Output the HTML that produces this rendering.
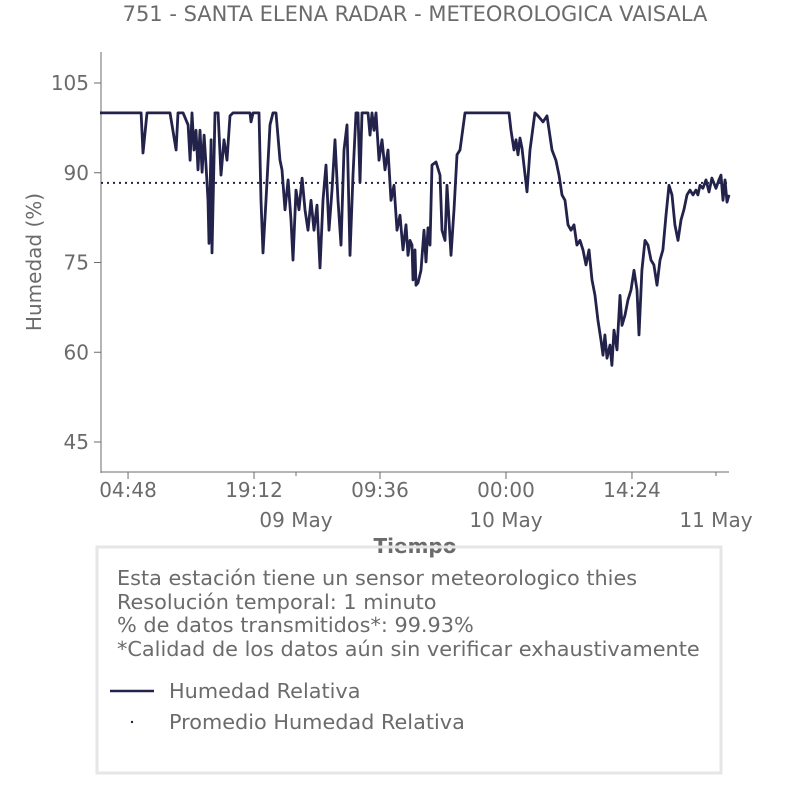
<!DOCTYPE html>
<html><head><meta charset="utf-8">
<style>
html,body{margin:0;padding:0;background:#fff;}
svg{display:block;font-family:"DejaVu Sans","Liberation Sans",sans-serif;}
</style></head>
<body>
<svg id="chart" width="806" height="806" viewBox="0 0 806 806">
<text x="415" y="21" text-anchor="middle" font-size="21" fill="#6b6b6b">751 - SANTA ELENA RADAR - METEOROLOGICA VAISALA</text>
<text transform="translate(41,262) rotate(-90)" text-anchor="middle" font-size="20" fill="#6b6b6b">Humedad (%)</text>
<g id="yticks"></g>
<g id="xticks"></g>
<line x1="101" y1="52" x2="101" y2="473" stroke="#6b6b6b" stroke-width="1"/>
<line x1="101" y1="472" x2="729" y2="472" stroke="#6b6b6b" stroke-width="1"/>
<line id="meanline" stroke="#22224a" stroke-width="2" stroke-dasharray="2,4"/>
<path id="series" fill="none" stroke="#22224a" stroke-width="2.8" stroke-linejoin="round"/>
<text x="415" y="553" text-anchor="middle" font-size="20" font-weight="bold" fill="#6b6b6b">Tiempo</text>
<rect x="97" y="547" width="624" height="226" fill="none" stroke="#e6e6e6" stroke-width="3"/>
<g font-size="20.8" fill="#6b6b6b">
<text x="117" y="585">Esta estación tiene un sensor meteorologico thies</text>
<text x="117" y="609">Resolución temporal: 1 minuto</text>
<text x="117" y="632">% de datos transmitidos*: 99.93%</text>
<text x="117" y="656">*Calidad de los datos aún sin verificar exhaustivamente</text>
<line x1="110" y1="691" x2="154" y2="691" stroke="#22224a" stroke-width="2.6"/>
<text x="169" y="698">Humedad Relativa</text>
<circle cx="132" cy="722" r="1.2" fill="#22224a"/>
<text x="169" y="729">Promedio Humedad Relativa</text>
</g>
</svg>
<script>
const hours=[1.6,6.29,6.51,6.97,9.6,9.83,10.29,10.51,11.09,11.66,
11.89,12.11,12.34,12.57,12.8,13.03,13.26,13.49,13.71,13.94,
14.06,14.29,14.4,14.74,15.09,15.43,15.77,16.11,16.46,16.8,
18.74,18.86,19.09,19.77,20,20.23,20.57,21.03,21.37,21.71,
22.17,22.4,22.74,23.09,23.43,23.66,24,24.34,24.69,25.03,
25.37,25.71,26.06,26.4,26.74,27.09,27.43,27.77,28.11,28.46,
28.8,29.14,29.49,29.83,30.17,30.51,30.86,31.09,31.31,31.54,
32,32.23,32.46,32.69,32.91,33.14,33.49,33.83,34.17,34.51,
34.86,35.2,35.54,35.89,36.23,36.57,36.8,37.03,37.26,37.37,
37.6,37.71,37.94,38.29,38.63,38.86,39.09,39.31,39.54,40,
40.46,40.69,41.03,41.26,41.49,41.71,42.06,42.4,42.74,43.31,
48.34,48.57,48.91,49.14,49.37,49.6,49.83,50.4,50.74,51.31,
51.66,52.23,52.69,53.26,53.71,54.06,54.4,54.74,55.09,55.43,
55.77,56.11,56.46,56.8,57.14,57.49,57.83,58.17,58.51,58.86,
59.09,59.31,59.54,59.89,60.11,60.34,60.69,61.03,61.26,61.6,
61.94,62.29,62.63,62.97,63.2,63.54,63.89,64.23,64.57,64.91,
65.26,65.6,65.94,66.29,66.63,66.97,67.31,67.66,68,68.34,
68.69,69.03,69.37,69.71,69.94,70.17,70.51,70.86,71.2,71.54,
72,72.34,72.57,72.8,73.03,73.26,73.49];
const humidity=[100,100,93.3,100,100,98,93.8,100,100,98,
92.1,100,93.8,97.1,90.5,97.1,90.1,96.3,91.3,85.4,
78.2,95.5,76.6,100,100,89.6,95.5,92.1,99.5,100,
100,98.5,100,100,85.4,76.6,85.4,98,100,100,
92.1,90.5,83.8,88.8,82.1,75.4,87.1,83.8,89.1,83.8,
80.4,85.4,80.4,84.6,74.1,85.4,91.3,80.4,87.1,95.5,
85.4,77.9,93.8,98,76.2,89.6,100,100,88.4,100,
100,100,96.3,100,97.1,100,92.1,95.5,90.5,93.8,
85.4,87.9,80.4,82.9,77.1,81.3,76.2,78.7,77.9,72.1,
77.1,71.2,71.6,73.7,80.4,75.1,80.8,77.9,91.3,91.8,
89.6,80.4,78.7,87.9,82.1,76.2,83.8,93,93.8,100,
100,97.1,93.8,95.5,93,95.8,94.1,86.8,93.8,100,
99.5,98.5,99.5,93.8,92.1,89.6,86.3,85.4,81.3,80.4,
81.3,77.9,78.7,77.1,74.6,77.1,72.1,69.5,65.4,62,
59.5,62.9,59,61.2,57.8,63.7,60.4,69.5,64.5,66.2,
68.7,70.4,73.7,70.4,62.9,73.7,78.7,77.9,75.4,74.6,
71.2,75.4,77.1,82.9,87.9,86.3,81.3,78.7,82.1,83.8,
86.3,87.1,86.3,87.1,86.3,87.9,87.4,88.8,86.8,89.1,
87.4,88.8,89.6,85.4,88.8,85.1,86.3];
const meanValue=[88.3];
const yTickValues=[45,60,75,90,105];
const xTickHours=[4.8,19.2,33.6,48,62.4];
const xTickLabels=["04:48","19:12","09:36","00:00","14:24"];
const dateHours=[24,48,72];
const dateLabels=["09 May","10 May","11 May"];
const X0=101,X1=729,H0=1.71,H1=73.49;
const xs=h=>X0+(h-H0)*(X1-X0)/(H1-H0);
const ys=v=>83+(105-v)*(442-83)/60;
const NS="http://www.w3.org/2000/svg";
const yg=document.getElementById('yticks');
yTickValues.forEach(v=>{
  const l=document.createElementNS(NS,'line');
  l.setAttribute('x1',94);l.setAttribute('x2',101);l.setAttribute('y1',ys(v));l.setAttribute('y2',ys(v));
  l.setAttribute('stroke','#6b6b6b');
  
  
  yg.appendChild(l);
  const t=document.createElementNS(NS,'text');
  t.setAttribute('x',89);t.setAttribute('y',ys(v)+7);t.setAttribute('text-anchor','end');
  t.setAttribute('font-size','20');t.setAttribute('fill','#6b6b6b');
  t.textContent=v;
  
  
  yg.appendChild(t);
});
const xg=document.getElementById('xticks');
xTickHours.forEach((h,i)=>{
  const l=document.createElementNS(NS,'line');
  l.setAttribute('x1',xs(h));l.setAttribute('x2',xs(h));l.setAttribute('y1',472);l.setAttribute('y2',479);
  l.setAttribute('stroke','#6b6b6b');
  
  
  xg.appendChild(l);
  const t=document.createElementNS(NS,'text');
  t.setAttribute('x',xs(h));t.setAttribute('y',497);t.setAttribute('text-anchor','middle');
  t.setAttribute('font-size','20');t.setAttribute('fill','#6b6b6b');
  t.textContent=xTickLabels[i];
  
  
  xg.appendChild(t);
});
dateHours.forEach((h,i)=>{
  const l=document.createElementNS(NS,'line');
  l.setAttribute('x1',xs(h));l.setAttribute('x2',xs(h));l.setAttribute('y1',472);l.setAttribute('y2',476);
  l.setAttribute('stroke','#6b6b6b');
  
  
  xg.appendChild(l);
  const t=document.createElementNS(NS,'text');
  t.setAttribute('x',xs(h));t.setAttribute('y',527);t.setAttribute('text-anchor','middle');
  t.setAttribute('font-size','20');t.setAttribute('fill','#6b6b6b');
  t.textContent=dateLabels[i];
  
  
  xg.appendChild(t);
});
const m=document.getElementById('meanline');
m.setAttribute('x1',X0);m.setAttribute('x2',X1);m.setAttribute('y1',ys(meanValue[0]));m.setAttribute('y2',ys(meanValue[0]));
let d='';
const n=Math.min(hours.length,humidity.length);
for(let i=0;i<n;i++){d+=(i?'L':'M')+xs(hours[i]).toFixed(1)+','+ys(humidity[i]).toFixed(1);}
document.getElementById('series').setAttribute('d',d);
</script>
</body></html>
